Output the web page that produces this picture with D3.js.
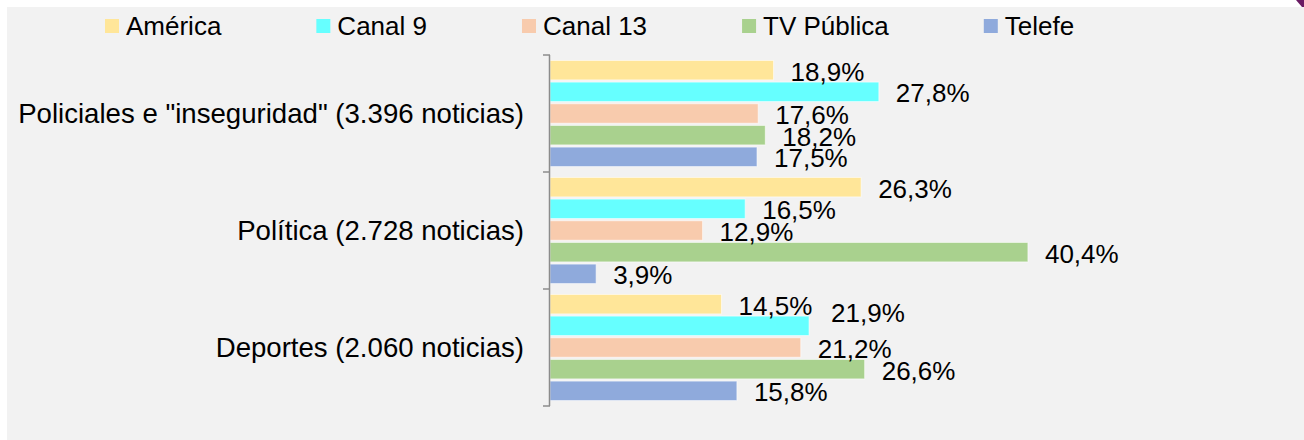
<!DOCTYPE html>
<html>
<head>
<meta charset="utf-8">
<script src="https://cdn.jsdelivr.net/npm/d3@7"></script>
<style>
  html, body { margin: 0; padding: 0; background: #ffffff; }
  svg { display: block; font-family: "Liberation Sans", Arial, sans-serif; }
</style>
</head>
<body>
<div id="chart"></div>
<script>

// data
var categories = ['Policiales e "inseguridad" (3.396 noticias)', 'Política (2.728 noticias)', 'Deportes (2.060 noticias)'];
var channels = ["América", "Canal 9", "Canal 13", "TV Pública", "Telefe"];
var america   = [18.9, 26.3, 14.5];
var canal9    = [27.8, 16.5, 21.9];
var canal13   = [17.6, 12.9, 21.2];
var tvpublica = [18.2, 40.4, 26.6];
var telefe    = [17.5, 3.9, 15.8];
var colours = ["#ffe699", "#66ffff", "#f8cbad", "#a9d18e", "#8faadc"];

var width = 1304,
    height = 440,
    axis_x = 550,
    plot_top = 55,
    plot_bottom = 406;

// label that was dragged away from its bar in the original
var label_nudge = {"2|1": [5, -14]};

var series = [america, canal9, canal13, tvpublica, telefe];
var rows = [];
categories.forEach(function(c, ci) {
    channels.forEach(function(ch, si) {
        rows.push({cat: c, ci: ci, channel: ch, si: si, value: series[si][ci]});
    });
});

var svg = d3.select("#chart").append("svg")
    .attr("width", width)
    .attr("height", height);

// panel
svg.append("rect")
    .attr("x", 7).attr("y", 7)
    .attr("width", width - 7).attr("height", height - 7)
    .attr("fill", "#f2f2f2");

// little purple corner in the top right
svg.append("path")
    .attr("d", "M1296,0 L1304,0 L1304,7 L1302,7 Z")
    .attr("fill", "#6a1b63");

var y0 = d3.scaleBand().domain(categories).range([plot_top, plot_bottom]).padding(0);
var y1 = d3.scaleBand().domain(channels).range([0, y0.bandwidth()]).paddingInner(0.1).paddingOuter(0.25);
var x = d3.scaleLinear().domain([0, 50]).range([axis_x, axis_x + 50 * 11.83]);
var colour = d3.scaleOrdinal().domain(channels).range(colours);
var fmt = function(v) { return d3.format(".1f")(v).replace(".", ",") + "%"; };

// bars
svg.append("g").selectAll("rect")
    .data(rows)
    .join("rect")
    .attr("x", x(0))
    .attr("y", d => y0(d.cat) + y1(d.channel))
    .attr("width", d => x(d.value) - x(0))
    .attr("height", y1.bandwidth())
    .attr("fill", d => colour(d.channel))
    .attr("stroke", "#ffffff")
    .attr("stroke-opacity", 0.6)
    .attr("stroke-width", 1);

// value labels
svg.append("g").selectAll("text")
    .data(rows)
    .join("text")
    .attr("x", function(d) {
        var n = label_nudge[d.ci + "|" + d.si];
        return x(d.value) + 17 + (n ? n[0] : 0);
    })
    .attr("y", function(d) {
        var n = label_nudge[d.ci + "|" + d.si];
        return y0(d.cat) + y1(d.channel) + y1.bandwidth() / 2 + 1.5 + (n ? n[1] : 0);
    })
    .attr("dy", "0.35em")
    .attr("font-size", "26px")
    .attr("fill", "#000")
    .text(d => fmt(d.value));

// category axis
var axis_g = svg.append("g");
axis_g.append("line")
    .attr("x1", axis_x - 0.5).attr("x2", axis_x - 0.5)
    .attr("y1", plot_top).attr("y2", plot_bottom)
    .attr("stroke", "#8c8c8c").attr("stroke-width", 1.5);

var tick_pos = categories.map(c => y0(c)).concat([plot_bottom]);
axis_g.selectAll(".tick_line")
    .data(tick_pos)
    .join("line")
    .attr("class", "tick_line")
    .attr("x1", axis_x - 7).attr("x2", axis_x)
    .attr("y1", d => d).attr("y2", d => d)
    .attr("stroke", "#8c8c8c").attr("stroke-width", 1.5);

axis_g.selectAll(".cat_label")
    .data(categories)
    .join("text")
    .attr("class", "cat_label")
    .attr("x", 524)
    .attr("y", d => y0(d) + y0.bandwidth() / 2)
    .attr("text-anchor", "end")
    .attr("dy", "0.35em")
    .attr("font-size", "27.6px")
    .attr("fill", "#000")
    .text(d => d);

// legend, laid out left to right by text width
var legend = svg.append("g");
var lx = 105;
channels.forEach(function(ch) {
    legend.append("rect")
        .attr("x", lx).attr("y", 19)
        .attr("width", 14).attr("height", 14)
        .attr("fill", colour(ch));
    var t = legend.append("text")
        .attr("x", lx + 21)
        .attr("y", 26)
        .attr("dy", "0.35em")
        .attr("font-size", "26px")
        .attr("fill", "#000")
        .text(ch);
    var w = t.node().getComputedTextLength();
    lx = lx + 21 + w + 95;
});

</script>
</body>
</html>
